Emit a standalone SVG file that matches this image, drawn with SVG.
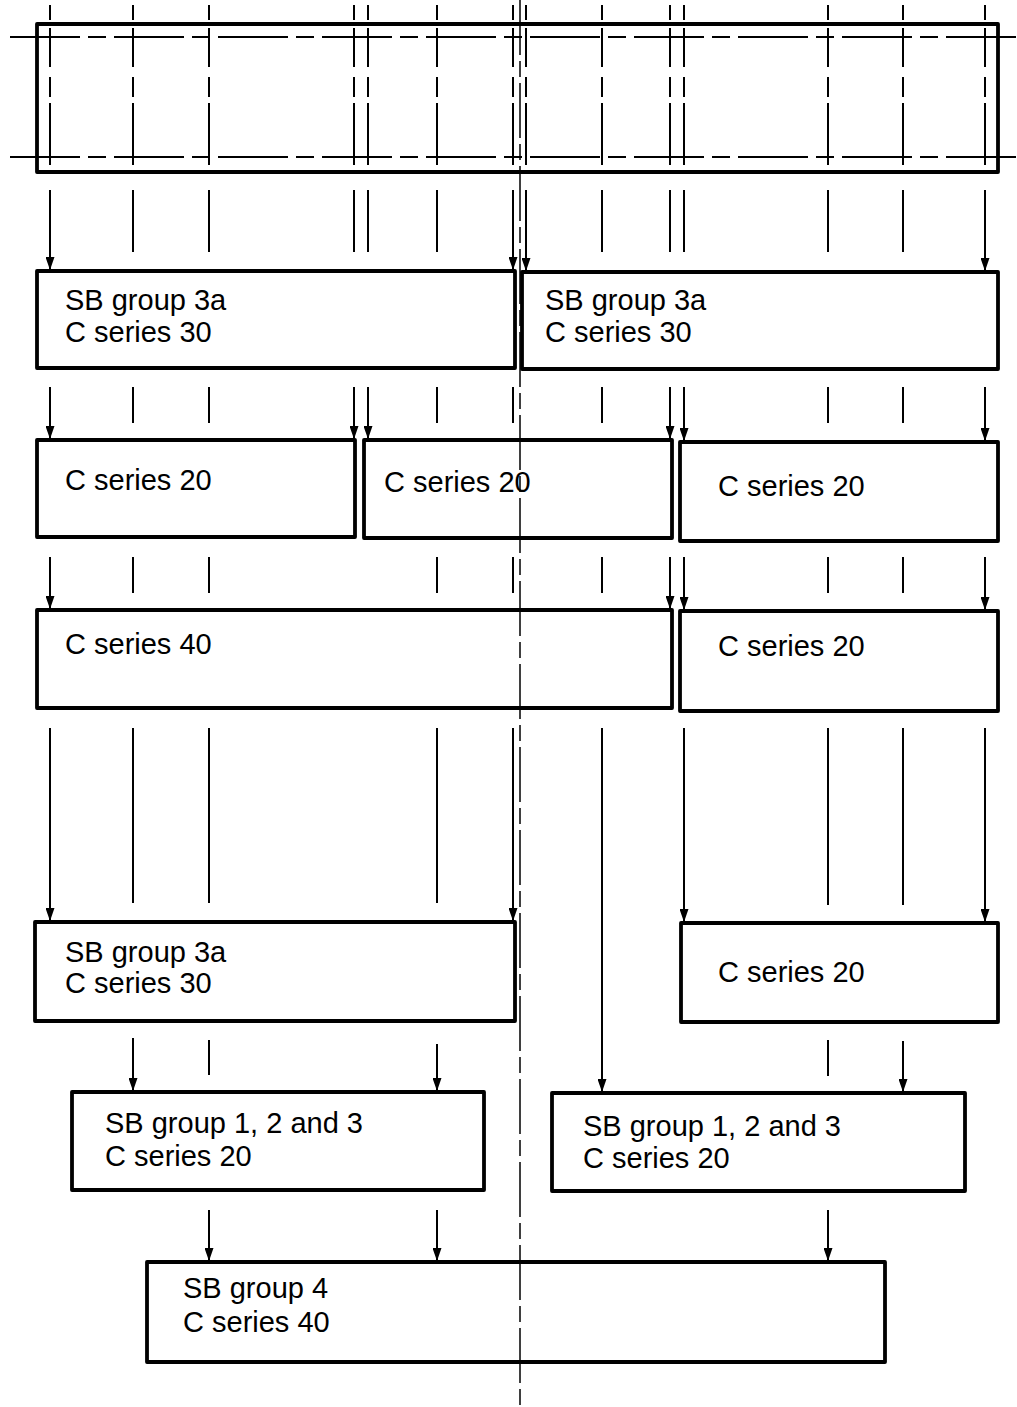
<svg xmlns="http://www.w3.org/2000/svg" width="1017" height="1407" viewBox="0 0 1017 1407">
<style>
  .box { fill: none; stroke: #000; stroke-width: 3.8; stroke-linejoin: round; }
  .lbl { font-family: "Liberation Sans", Arial, sans-serif; font-size: 29px; fill: #000; }
  .ln { stroke: #000; stroke-width: 2; fill: none; }
  .ar { stroke: #000; stroke-width: 2; fill: none; marker-end: url(#ah); }
  .vd { stroke: #000; stroke-width: 2; fill: none; stroke-dasharray: 15 8 39 10 20 6 62; }
  .hd { stroke: #000; stroke-width: 2; fill: none; stroke-dasharray: 70 8 18 8; }
  .cl { stroke: #000; stroke-width: 1.5; fill: none; stroke-dasharray: 55 6 16 6; }
</style>
<defs>
  <marker id="ah" markerUnits="userSpaceOnUse" markerWidth="13" markerHeight="9" viewBox="0 0 13 9" refX="13" refY="4.5" orient="auto">
    <path d="M0,0 L13,4.5 L0,9 z" fill="#000"/>
  </marker>
</defs>
<rect width="1017" height="1407" fill="#fff"/>

<g id="top-section">
  <rect class="box" x="37" y="24" width="961" height="148"/>
  <line class="hd" x1="10" y1="37" x2="1017" y2="37"/>
  <line class="hd" x1="10" y1="157" x2="1017" y2="157"/>
  <line class="vd" x1="50" y1="5" x2="50" y2="165"/>
  <line class="vd" x1="133" y1="5" x2="133" y2="165"/>
  <line class="vd" x1="209" y1="5" x2="209" y2="165"/>
  <line class="vd" x1="354" y1="5" x2="354" y2="165"/>
  <line class="vd" x1="368" y1="5" x2="368" y2="165"/>
  <line class="vd" x1="437" y1="5" x2="437" y2="165"/>
  <line class="vd" x1="513" y1="5" x2="513" y2="165"/>
  <line class="vd" x1="526" y1="5" x2="526" y2="165"/>
  <line class="vd" x1="602" y1="5" x2="602" y2="165"/>
  <line class="vd" x1="670" y1="5" x2="670" y2="165"/>
  <line class="vd" x1="684" y1="5" x2="684" y2="165"/>
  <line class="vd" x1="828" y1="5" x2="828" y2="165"/>
  <line class="vd" x1="903" y1="5" x2="903" y2="165"/>
  <line class="vd" x1="985" y1="5" x2="985" y2="165"/>
</g>

<g id="r1-left">
  <rect class="box" x="37" y="271" width="478" height="97"/>
  <text class="lbl" x="65" y="310">SB group 3a</text>
  <text class="lbl" x="65" y="342">C series 30</text>
</g>
<g id="r1-right">
  <rect class="box" x="522" y="272" width="476" height="97"/>
  <text class="lbl" x="545" y="310">SB group 3a</text>
  <text class="lbl" x="545" y="342">C series 30</text>
</g>

<g id="r2-left">
  <rect class="box" x="37" y="440" width="318" height="97"/>
  <text class="lbl" x="65" y="490">C series 20</text>
</g>
<g id="r2-mid">
  <rect class="box" x="364" y="440" width="308" height="98"/>
  <text class="lbl" x="384" y="492">C series 20</text>
</g>
<g id="r2-right">
  <rect class="box" x="680" y="442" width="318" height="99"/>
  <text class="lbl" x="718" y="496">C series 20</text>
</g>

<g id="r3-left">
  <rect class="box" x="37" y="610" width="635" height="98"/>
  <text class="lbl" x="65" y="654">C series 40</text>
</g>
<g id="r3-right">
  <rect class="box" x="680" y="611" width="318" height="100"/>
  <text class="lbl" x="718" y="656">C series 20</text>
</g>

<g id="r4-left">
  <rect class="box" x="35" y="922" width="480" height="99"/>
  <text class="lbl" x="65" y="962">SB group 3a</text>
  <text class="lbl" x="65" y="993">C series 30</text>
</g>
<g id="r4-right">
  <rect class="box" x="681" y="923" width="317" height="99"/>
  <text class="lbl" x="718" y="982">C series 20</text>
</g>

<g id="r5-left">
  <rect class="box" x="72" y="1092" width="412" height="98"/>
  <text class="lbl" x="105" y="1133">SB group 1, 2 and 3</text>
  <text class="lbl" x="105" y="1166">C series 20</text>
</g>
<g id="r5-right">
  <rect class="box" x="552" y="1093" width="413" height="98"/>
  <text class="lbl" x="583" y="1136">SB group 1, 2 and 3</text>
  <text class="lbl" x="583" y="1168">C series 20</text>
</g>

<g id="r6">
  <rect class="box" x="147" y="1262" width="738" height="100"/>
  <text class="lbl" x="183" y="1298">SB group 4</text>
  <text class="lbl" x="183" y="1332">C series 40</text>
</g>

<g id="connectors">
  <line class="ar" x1="50" y1="190" x2="50" y2="270"/>
  <line class="ln" x1="133" y1="190" x2="133" y2="252"/>
  <line class="ln" x1="209" y1="190" x2="209" y2="252"/>
  <line class="ln" x1="354" y1="190" x2="354" y2="252"/>
  <line class="ln" x1="368" y1="190" x2="368" y2="252"/>
  <line class="ln" x1="437" y1="190" x2="437" y2="252"/>
  <line class="ar" x1="513" y1="190" x2="513" y2="270"/>
  <line class="ar" x1="526" y1="190" x2="526" y2="271"/>
  <line class="ln" x1="602" y1="190" x2="602" y2="252"/>
  <line class="ln" x1="670" y1="190" x2="670" y2="252"/>
  <line class="ln" x1="684" y1="190" x2="684" y2="252"/>
  <line class="ln" x1="828" y1="190" x2="828" y2="252"/>
  <line class="ln" x1="903" y1="190" x2="903" y2="252"/>
  <line class="ar" x1="985" y1="190" x2="985" y2="271"/>
  <line class="ar" x1="50" y1="387" x2="50" y2="439"/>
  <line class="ln" x1="133" y1="387" x2="133" y2="423"/>
  <line class="ln" x1="209" y1="387" x2="209" y2="423"/>
  <line class="ar" x1="354" y1="387" x2="354" y2="439"/>
  <line class="ar" x1="368" y1="387" x2="368" y2="439"/>
  <line class="ln" x1="437" y1="387" x2="437" y2="423"/>
  <line class="ln" x1="513" y1="387" x2="513" y2="423"/>
  <line class="ln" x1="602" y1="387" x2="602" y2="423"/>
  <line class="ar" x1="670" y1="387" x2="670" y2="439"/>
  <line class="ar" x1="684" y1="387" x2="684" y2="441"/>
  <line class="ln" x1="828" y1="387" x2="828" y2="423"/>
  <line class="ln" x1="903" y1="387" x2="903" y2="423"/>
  <line class="ar" x1="985" y1="387" x2="985" y2="441"/>
  <line class="ar" x1="50" y1="557" x2="50" y2="609"/>
  <line class="ln" x1="133" y1="557" x2="133" y2="593"/>
  <line class="ln" x1="209" y1="557" x2="209" y2="593"/>
  <line class="ln" x1="437" y1="557" x2="437" y2="593"/>
  <line class="ln" x1="513" y1="557" x2="513" y2="593"/>
  <line class="ln" x1="602" y1="557" x2="602" y2="593"/>
  <line class="ar" x1="670" y1="557" x2="670" y2="609"/>
  <line class="ar" x1="684" y1="557" x2="684" y2="610"/>
  <line class="ln" x1="828" y1="557" x2="828" y2="593"/>
  <line class="ln" x1="903" y1="557" x2="903" y2="593"/>
  <line class="ar" x1="985" y1="557" x2="985" y2="610"/>
  <line class="ar" x1="50" y1="728" x2="50" y2="921"/>
  <line class="ln" x1="133" y1="728" x2="133" y2="903"/>
  <line class="ln" x1="209" y1="728" x2="209" y2="903"/>
  <line class="ln" x1="437" y1="728" x2="437" y2="903"/>
  <line class="ar" x1="513" y1="728" x2="513" y2="921"/>
  <line class="ar" x1="602" y1="728" x2="602" y2="1092"/>
  <line class="ar" x1="684" y1="728" x2="684" y2="922"/>
  <line class="ln" x1="828" y1="728" x2="828" y2="905"/>
  <line class="ln" x1="903" y1="728" x2="903" y2="905"/>
  <line class="ar" x1="985" y1="728" x2="985" y2="922"/>
  <line class="ar" x1="133" y1="1038" x2="133" y2="1091"/>
  <line class="ln" x1="209" y1="1040" x2="209" y2="1075"/>
  <line class="ar" x1="437" y1="1044" x2="437" y2="1091"/>
  <line class="ln" x1="828" y1="1040" x2="828" y2="1076"/>
  <line class="ar" x1="903" y1="1041" x2="903" y2="1092"/>
  <line class="ar" x1="209" y1="1210" x2="209" y2="1261"/>
  <line class="ar" x1="437" y1="1210" x2="437" y2="1261"/>
  <line class="ar" x1="828" y1="1210" x2="828" y2="1261"/>
  <line class="cl" x1="520" y1="0" x2="520" y2="1407"/>
</g>
</svg>
